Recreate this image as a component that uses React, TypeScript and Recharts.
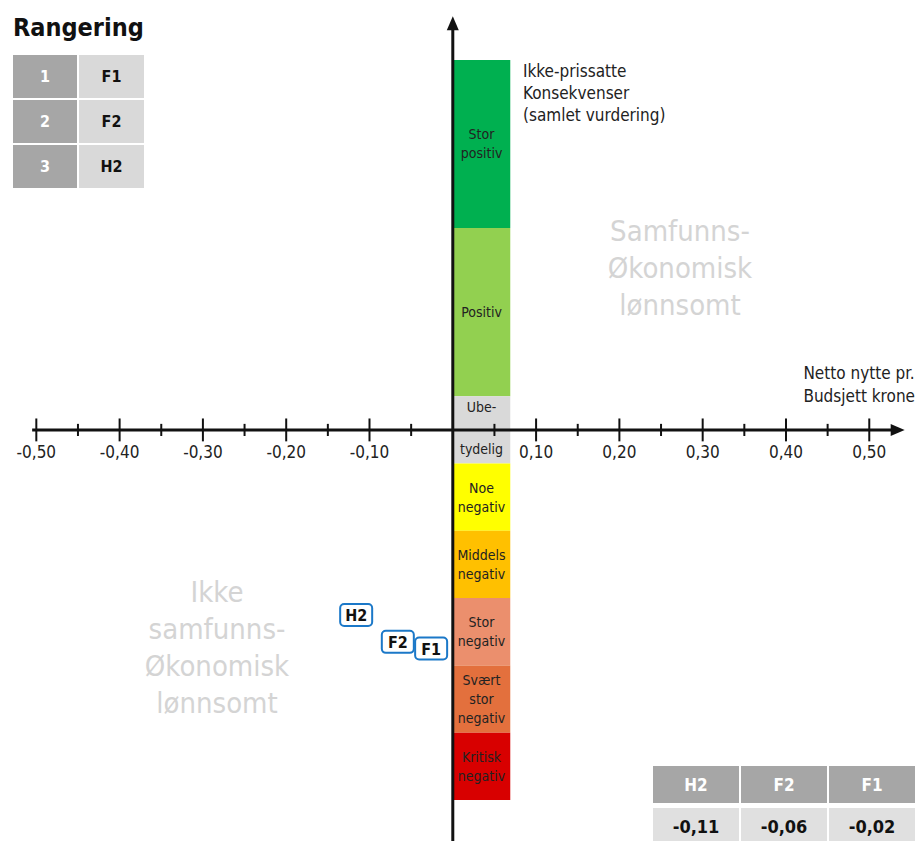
import React from 'react';
import {
    ScatterChart,
    Scatter,
    XAxis,
    YAxis,
    ReferenceLine,
    ReferenceArea,
    ReferenceDot,
} from 'recharts';

// alternatives: net benefit per budget krone (x) and non-priced consequence (y)
const alternatives = ['H2', 'F2', 'F1'];
const netBenefit = [-0.11, -0.06, -0.02];
const consequence = [-2.75, -3.15, -3.25];

// ranking table
const rankNumbers = ['1', '2', '3'];
const rankNames = ['F1', 'F2', 'H2'];

// consequence scale bands (y from, y to, label lines)
const bandNames = [
    'Stor positiv',
    'Positiv',
    'Ubetydelig',
    'Noe negativ',
    'Middels negativ',
    'Stor negativ',
    'Svært stor negativ',
    'Kritisk negativ',
];
const bandFrom = [3, 0.5, -0.5, -1.5, -2.5, -3.5, -4.5, -5.5];
const bandTo = [5.5, 3, 0.5, -0.5, -1.5, -2.5, -3.5, -4.5];
const bandLines = [
    ['Stor', 'positiv'],
    ['Positiv'],
    ['Ube-', 'tydelig'],
    ['Noe', 'negativ'],
    ['Middels', 'negativ'],
    ['Stor', 'negativ'],
    ['Svært', 'stor', 'negativ'],
    ['Kritisk', 'negativ'],
];
const bandColors = ['#00b050', '#92d050', '#d9d9d9', '#ffff00', '#ffc000', '#eb8f6d', '#e3703d', '#d80000'];
const bandWidth = 0.069;

// x axis ticks
const majorTicks = [-0.5, -0.4, -0.3, -0.2, -0.1, 0.1, 0.2, 0.3, 0.4, 0.5];
const minorTicks = [-0.45, -0.35, -0.25, -0.15, -0.05, 0.05, 0.15, 0.25, 0.35, 0.45];

const X_DOMAIN: [number, number] = [-0.5436, 0.5573];
const Y_DOMAIN: [number, number] = [-6.11, 6.39];

const FONT = "'Liberation Sans Narrow', 'DejaVu Sans Condensed', Roboto, sans-serif";

const points = alternatives.map((name, i) => ({ name, x: netBenefit[i], y: consequence[i] }));

const fmt = (v: number) => v.toFixed(2).replace('.', ',');

const BandLabel = (props: any) => {
    const { viewBox, lines, split } = props;
    const { x, y, width, height } = viewBox;
    const cx = x + width / 2;
    const lh = 19;
    if (split) {
        return (
            <g fontFamily={FONT} fontSize={14} fill="#222" textAnchor="middle">
                <text x={cx} y={y + 16}>{lines[0]}</text>
                <text x={cx} y={y + height - 10}>{lines[1]}</text>
            </g>
        );
    }
    const start = y + height / 2 - ((lines.length - 1) * lh) / 2 + 5;
    return (
        <g fontFamily={FONT} fontSize={14} fill="#222" textAnchor="middle">
            {lines.map((l: string, i: number) => (
                <text key={i} x={cx} y={start + i * lh}>{l}</text>
            ))}
        </g>
    );
};

const PointBox = (props: any) => {
    const { cx, cy, payload } = props;
    const w = 32;
    const h = 22;
    return (
        <g>
            <rect x={cx - w / 2 - 5} y={cy - h / 2} width={w} height={h} rx={4} fill="#fff" stroke="#1b78c8" strokeWidth={2} />
            <text x={cx - 5} y={cy + 6} textAnchor="middle" fontFamily={FONT} fontSize={16} fontWeight="bold" fill="#111">
                {payload.name}
            </text>
        </g>
    );
};

const ArrowRight = (props: any) => (
    <path d={`M${props.cx},${props.cy} l-14,-6 l0,12 z`} fill="#111" />
);
const ArrowUp = (props: any) => (
    <path d={`M${props.cx},${props.cy} l-6,14 l12,0 z`} fill="#111" />
);

const TickLabel = (props: any) => {
    const { viewBox, value } = props;
    return (
        <text x={viewBox.x} y={viewBox.y + viewBox.height + 17} textAnchor="middle" fontFamily={FONT} fontSize={17} fill="#222">
            {value}
        </text>
    );
};

const cellBase: React.CSSProperties = {
    position: 'absolute',
    display: 'flex',
    alignItems: 'center',
    justifyContent: 'center',
    fontFamily: FONT,
    fontWeight: 'bold',
};

export default function App() {
    return (
        <div style={{ position: 'absolute', left: 0, top: 0, width: 917, height: 841, background: '#fff', overflow: 'hidden' }}>
            <ScatterChart width={917} height={841} margin={{ top: 0, right: 0, bottom: 0, left: 0 }}>
                <XAxis type="number" dataKey="x" domain={X_DOMAIN} hide allowDataOverflow />
                <YAxis type="number" dataKey="y" domain={Y_DOMAIN} hide allowDataOverflow />

                {bandNames.map((n, i) => (
                    <ReferenceArea
                        key={n}
                        x1={0}
                        x2={bandWidth}
                        y1={bandFrom[i]}
                        y2={bandTo[i]}
                        fill={bandColors[i]}
                        fillOpacity={1}
                        stroke="none"
                        label={<BandLabel lines={bandLines[i]} split={n === 'Ubetydelig'} />}
                    />
                ))}

                {/* horizontal axis */}
                <ReferenceLine segment={[{ x: -0.505, y: 0 }, { x: 0.535, y: 0 }]} stroke="#111" strokeWidth={3} />
                <ReferenceDot x={0.5425} y={0} r={0} shape={<ArrowRight />} />
                {majorTicks.map((t) => (
                    <ReferenceLine
                        key={'M' + t}
                        segment={[{ x: t, y: 0.17 }, { x: t, y: -0.17 }]}
                        stroke="#111"
                        strokeWidth={2}
                        label={<TickLabel value={fmt(t)} />}
                    />
                ))}
                {minorTicks.map((t) => (
                    <ReferenceLine key={'m' + t} segment={[{ x: t, y: 0.09 }, { x: t, y: -0.09 }]} stroke="#111" strokeWidth={2} />
                ))}

                {/* vertical axis */}
                <ReferenceLine segment={[{ x: 0, y: -6.11 }, { x: 0, y: 6.05 }]} stroke="#111" strokeWidth={3} />
                <ReferenceDot x={0} y={6.15} r={0} shape={<ArrowUp />} />

                <Scatter data={points} shape={<PointBox />} isAnimationActive={false} />
            </ScatterChart>

            {/* title and ranking table */}
            <div style={{ position: 'absolute', left: 13, top: 13, fontFamily: FONT, fontWeight: 'bold', fontSize: 25, color: '#111' }}>
                Rangering
            </div>
            {rankNumbers.map((r, i) => (
                <React.Fragment key={r}>
                    <div style={{ ...cellBase, left: 13, top: 55 + i * 45, width: 64, height: 43, background: '#a6a6a6', color: '#fff', fontSize: 16 }}>{r}</div>
                    <div style={{ ...cellBase, left: 79, top: 55 + i * 45, width: 65, height: 43, background: '#d9d9d9', color: '#111', fontSize: 16 }}>{rankNames[i]}</div>
                </React.Fragment>
            ))}

            {/* value table */}
            {alternatives.map((a, i) => (
                <React.Fragment key={a}>
                    <div style={{ ...cellBase, left: 653 + i * 88, top: 766, width: 86, height: 37, background: '#a6a6a6', color: '#fff', fontSize: 17 }}>{a}</div>
                    <div style={{ ...cellBase, left: 653 + i * 88, top: 808, width: 86, height: 37, background: '#e0e0e0', color: '#111', fontSize: 18 }}>{fmt(netBenefit[i])}</div>
                </React.Fragment>
            ))}

            {/* axis titles */}
            <div style={{ position: 'absolute', left: 523, top: 60, fontFamily: FONT, fontSize: 17, lineHeight: '22px', color: '#222' }}>
                Ikke-prissatte<br />Konsekvenser<br />(samlet vurdering)
            </div>
            <div style={{ position: 'absolute', right: 2, top: 362, fontFamily: FONT, fontSize: 17, lineHeight: '23px', color: '#222', textAlign: 'left' }}>
                Netto nytte pr.<br />Budsjett krone
            </div>

            {/* quadrant texts */}
            <div style={{ position: 'absolute', left: 560, width: 240, top: 213, textAlign: 'center', fontFamily: FONT, fontSize: 29, lineHeight: '37px', color: '#d4d4d4' }}>
                Samfunns-<br />Økonomisk<br />lønnsomt
            </div>
            <div style={{ position: 'absolute', left: 97, width: 240, top: 574, textAlign: 'center', fontFamily: FONT, fontSize: 29, lineHeight: '37px', color: '#d4d4d4' }}>
                Ikke<br />samfunns-<br />Økonomisk<br />lønnsomt
            </div>
        </div>
    );
}
